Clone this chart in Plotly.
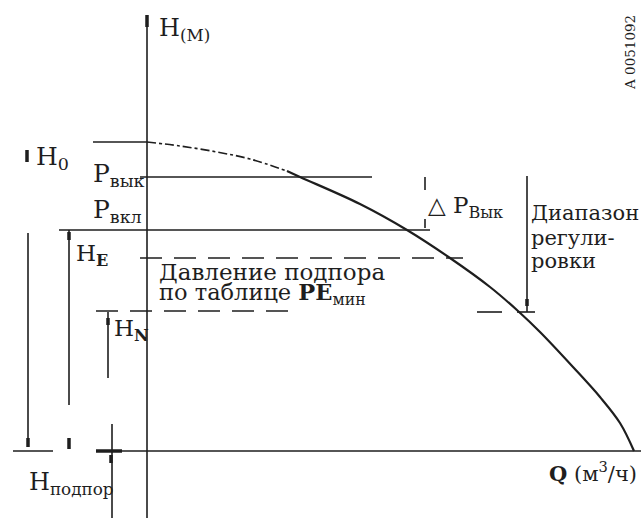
import plotly.graph_objects as go

# pump curve H(Q), schematic units
curve_q = [0, 33, 70, 103, 140, 153, 213, 260, 303, 343, 371, 393, 426, 453, 473, 487]
curve_h = [309, 305, 299, 292, 280, 274, 247, 221, 193, 164, 140, 119, 84, 54, 28, 0]
n_dashed = 5  # first points are drawn dash-dot

# characteristic levels
H0 = 309
P_OFF = 274
P_ON = 221
H_E = 193
H_N = 139

INK = "#1e1e1e"
FONT = "DejaVu Serif"


def segs(pairs):
    # pairs of ((x0, y0), (x1, y1)) -> one trace with gaps
    xs, ys = [], []
    for (a, b) in pairs:
        xs += [a[0], b[0], None]
        ys += [a[1], b[1], None]
    return xs, ys


fig = go.Figure()

# axes
solid = [
    ((0, 436), (0, -67)),            # H axis
    ((-27, 0), (494, 0)),            # Q axis
    ((-134, 0), (-94, 0)),
    ((-7, P_OFF), (225, P_OFF)),     # P_вык
    ((-88, P_ON), (283, P_ON)),      # P_вкл
    ((-54, H0), (0, H0)),            # H0
    ((330, H_N), (355, H_N)),
    ((370, H_N), (388, H_N)),
    ((-119, 218), (-119, 4)),        # dimension lines
    ((-78, P_ON), (-78, 46)),
    ((-39, H_N), (-39, 73)),
    ((-35, 27), (-35, -67)),
    ((380, P_OFF + 1), (380, H_N)),
    ((278, P_OFF), (278, 261)),
    ((278, 232), (278, 223)),
]
x, y = segs(solid)
fig.add_trace(go.Scatter(x=x, y=y, mode="lines", line=dict(color=INK, width=1.6),
                         hoverinfo="skip", showlegend=False))

thick = [
    ((0, 436), (0, 424)),
    ((-51, 0), (-25, 0)),
    ((-120, 301), (-120, 289)),
    ((-119, 13), (-119, 4)),
    ((-78, 219), (-78, 211)),
    ((-78, 13), (-78, 2)),
    ((-39, 133), (-39, 126)),
    ((-36, -4), (-36, -12)),
    ((380, 152), (380, 145)),
]
x, y = segs(thick)
fig.add_trace(go.Scatter(x=x, y=y, mode="lines", line=dict(color=INK, width=3.5),
                         hoverinfo="skip", showlegend=False))

dashed = [
    ((-7, H_E), (316, H_E)),
    ((-51, H_N + 1), (153, H_N + 1)),
]
x, y = segs(dashed)
fig.add_trace(go.Scatter(x=x, y=y, mode="lines", line=dict(color=INK, width=1.6, dash="22px,12px"),
                         hoverinfo="skip", showlegend=False))

# pump curve
fig.add_trace(go.Scatter(x=curve_q[:n_dashed], y=curve_h[:n_dashed], mode="lines",
                         line=dict(color=INK, width=1.6, dash="dashdot", shape="spline"),
                         hoverinfo="skip", showlegend=False))
fig.add_trace(go.Scatter(x=curve_q[n_dashed - 1:], y=curve_h[n_dashed - 1:], mode="lines",
                         line=dict(color=INK, width=2.2, shape="spline"),
                         hoverinfo="skip", showlegend=False))

labels = [
    (10, 422, "H<sub>(M)</sub>", 24, "left"),
    (-113, 293, "H<sub>0</sub>", 25, "left"),
    (-56, 276, "P<sub>вык</sub>", 25, "left"),
    (-56, 240, "P<sub>вкл</sub>", 25, "left"),
    (-73, 196, "H<sub><b>E</b></sub>", 23, "left"),
    (10, 179, "Давление подпора", 23, "left"),
    (10, 157, "по таблице <b>PE</b><sub>мин</sub>", 22.5, "left"),
    (-35, 121, "H<sub><b>N</b></sub>", 23, "left"),
    (279, 244, "△ P<sub>Вык</sub>", 23, "left"),
    (382, 238, "Диапазон", 21, "left"),
    (382, 213, "регули-", 21, "left"),
    (382, 190, "ровки", 21, "left"),
    (-120, -32, "H<sub>подпор</sub>", 24, "left"),
    (492, -21, "<b>Q</b> (м<sup>3</sup>/ч)", 21, "right"),
]
for q, h, txt, size, anchor in labels:
    fig.add_annotation(x=q, y=h, text=txt, showarrow=False, xanchor=anchor, yanchor="middle",
                       font=dict(family=FONT, size=size, color=INK))

fig.add_annotation(x=483, y=398, text="A 0051092", textangle=-90, showarrow=False,
                   font=dict(family=FONT, size=13.5, color=INK))

fig.update_layout(
    width=641, height=518,
    margin=dict(l=0, r=0, t=0, b=0),
    paper_bgcolor="white", plot_bgcolor="white",
    xaxis=dict(range=[-147, 494], visible=False, fixedrange=True),
    yaxis=dict(range=[-67, 451], visible=False, fixedrange=True),
)

# page body has a default 8px margin, drop it
fig.write_html("out.html", config={"displayModeBar": False},
               post_script="document.body.style.margin='0';")
